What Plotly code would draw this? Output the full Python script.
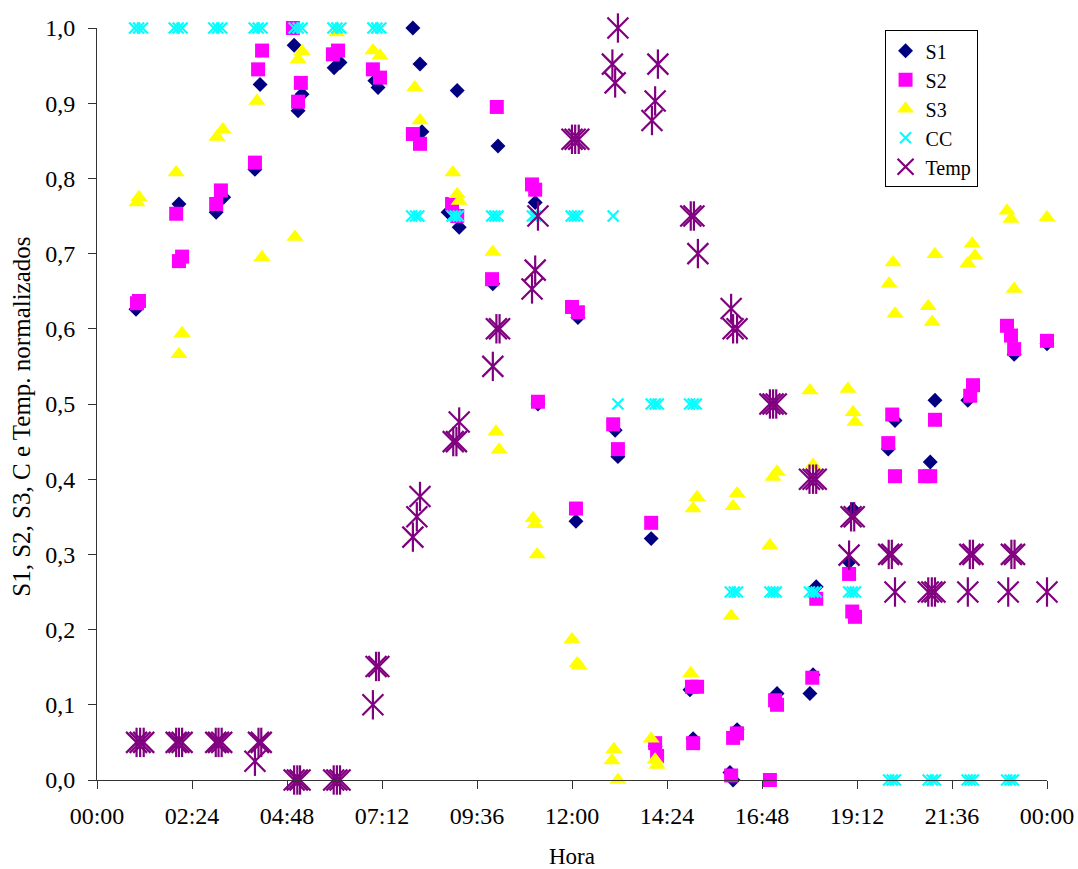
import plotly.graph_objects as go

# Hours since midnight for each reading, and the normalised values
s1_t = [0.985, 2.07, 3.01, 3.2, 3.99, 4.12, 4.98, 5.18, 5.08, 5.99, 6.14, 7.02, 7.1,
        7.98, 8.16, 8.21, 8.87, 9.1, 9.15, 10.0, 10.13, 11.07, 11.14, 12.1, 12.15,
        13.09, 13.16, 14.0, 14.1, 14.98, 15.06, 15.99, 16.07, 16.17, 17.18, 18.01,
        18.09, 18.17, 19.0, 19.1, 19.99, 20.16, 21.05, 21.17, 22.0, 23.17, 24.0]
s1_v = [0.626, 0.766, 0.755, 0.775, 0.812, 0.925, 0.977, 0.912, 0.89, 0.947, 0.954, 0.93, 0.921,
        1.0, 0.952, 0.862, 0.755, 0.917, 0.735, 0.66, 0.843, 0.768, 0.5, 0.344, 0.615,
        0.465, 0.43, 0.321, 0.045, 0.12, 0.055, 0.01, 0.0, 0.067, 0.115, 0.115,
        0.14, 0.257, 0.29, 0.36, 0.44, 0.478, 0.423, 0.505, 0.505, 0.566, 0.58]

s2_t = [1.01, 1.06, 2.0, 2.07, 2.15, 3.01, 3.13, 3.99, 4.07, 4.17, 4.95, 5.08, 5.15,
        5.96, 6.09, 6.97, 7.15, 7.98, 8.16, 8.97, 9.1, 9.98, 10.1, 10.99, 11.07, 11.14,
        12.0, 12.1, 12.15, 13.04, 13.16, 14.0, 14.1, 14.15, 15.03, 15.06, 15.16,
        16.02, 16.07, 16.17, 17.0, 17.13, 17.18, 18.07, 18.17, 19.0, 19.08, 19.15,
        19.99, 20.09, 20.16, 20.92, 21.05, 21.17, 22.06, 22.13, 22.99, 23.09, 23.17, 24.0]
s2_v = [0.634, 0.637, 0.753, 0.69, 0.696, 0.766, 0.784, 0.821, 0.945, 0.97, 1.0, 0.902, 0.927,
        0.965, 0.97, 0.945, 0.934, 0.859, 0.846, 0.766, 0.75, 0.666, 0.895, 0.792, 0.785, 0.503,
        0.629, 0.361, 0.622, 0.473, 0.44, 0.342, 0.049, 0.032, 0.124, 0.049, 0.124,
        0.006, 0.056, 0.062, 0.0, 0.106, 0.1, 0.136, 0.241, 0.274, 0.224, 0.217,
        0.448, 0.486, 0.404, 0.404, 0.404, 0.479, 0.511, 0.525, 0.604, 0.591, 0.573, 0.584]

s3_t = [1.01, 1.06, 2.0, 2.07, 2.15, 3.03, 3.18, 4.04, 4.17, 5.0, 5.08, 5.18, 6.06,
        6.97, 7.15, 8.03, 8.16, 8.99, 9.1, 9.15, 10.0, 10.08, 10.16, 11.02, 11.07, 11.12,
        12.0, 12.13, 12.18, 13.01, 13.06, 13.16, 14.0, 14.1, 14.15, 15.0, 15.06, 15.16,
        16.02, 16.07, 16.17, 17.0, 17.08, 17.18, 18.01, 18.09, 18.97, 19.1, 19.15,
        20.01, 20.11, 20.16, 21.0, 21.1, 21.17, 22.0, 22.11, 22.18, 22.99, 23.09, 23.17, 24.0]
s3_v = [0.768, 0.775, 0.808, 0.566, 0.594, 0.855, 0.865, 0.903, 0.695, 0.722, 0.958, 0.969, 0.994,
        0.97, 0.963, 0.921, 0.877, 0.808, 0.779, 0.77, 0.702, 0.463, 0.439, 0.348, 0.34, 0.3,
        0.187, 0.155, 0.152, 0.026, 0.041, 0.0, 0.055, 0.027, 0.02, 0.142, 0.361, 0.376,
        0.218, 0.364, 0.381, 0.312, 0.403, 0.41, 0.518, 0.419, 0.52, 0.489, 0.476,
        0.66, 0.688, 0.62, 0.63, 0.609, 0.699, 0.687, 0.713, 0.697, 0.757, 0.746, 0.653, 0.748]

cc_t = [0.95, 1.05, 1.15, 1.95, 2.05, 2.15, 2.95, 3.05, 3.15, 3.97, 4.07, 4.17,
        4.98, 5.08, 5.18, 5.96, 6.06, 6.16, 6.97, 7.07, 7.17,
        7.95, 8.05, 8.13, 8.97, 9.05, 9.13, 9.97, 10.05, 10.13, 11.0, 11.08,
        11.98, 12.06, 12.14, 13.04,
        13.16, 14.0, 14.1, 14.18, 14.97, 15.06, 15.14,
        16.0, 16.1, 16.18, 17.0, 17.08, 17.16, 18.0, 18.09, 18.17, 18.99, 19.08, 19.16,
        20.0, 20.09, 20.17, 21.0, 21.1, 21.18, 21.98, 22.06, 22.14, 22.98, 23.07, 23.15, 24.03]
cc_v = [1.0, 1.0, 1.0, 1.0, 1.0, 1.0, 1.0, 1.0, 1.0, 1.0, 1.0, 1.0,
        1.0, 1.0, 1.0, 1.0, 1.0, 1.0, 1.0, 1.0, 1.0,
        0.75, 0.75, 0.75, 0.75, 0.75, 0.75, 0.75, 0.75, 0.75, 0.75, 0.75,
        0.75, 0.75, 0.75, 0.75,
        0.5, 0.5, 0.5, 0.5, 0.5, 0.5, 0.5,
        0.25, 0.25, 0.25, 0.25, 0.25, 0.25, 0.25, 0.25, 0.25, 0.25, 0.25, 0.25,
        0.0, 0.0, 0.0, 0.0, 0.0, 0.0, 0.0, 0.0, 0.0, 0.0, 0.0, 0.0, 0.0]

temp_t = [1.0, 1.09, 1.18, 2.0, 2.07, 2.15, 3.0, 3.07, 3.15, 3.99, 4.08, 4.15,
          4.98, 5.06, 5.13, 5.98, 6.06, 6.14, 6.97, 7.05, 7.12,
          7.98, 8.08, 8.16, 9.0, 9.08, 9.15, 10.0, 10.09, 10.17,
          10.99, 11.07, 11.14, 12.0, 12.08, 12.17, 13.02, 13.09, 13.16,
          14.02, 14.1, 14.17, 15.0, 15.08, 15.18, 16.02, 16.07, 16.17,
          17.0, 17.08, 17.16, 18.0, 18.09, 18.17, 19.0, 19.05, 19.13,
          20.0, 20.08, 20.16, 21.0, 21.09, 21.17, 22.0, 22.05, 22.13,
          23.02, 23.1, 23.18, 24.0]
temp_v = [0.05, 0.05, 0.05, 0.05, 0.05, 0.05, 0.05, 0.05, 0.05, 0.025, 0.05, 0.05,
          0.0, 0.0, 0.0, 0.0, 0.0, 0.0, 0.1, 0.151, 0.151,
          0.323, 0.35, 0.377, 0.45, 0.45, 0.476, 0.55, 0.6, 0.6,
          0.653, 0.678, 0.75, 0.852, 0.852, 0.852, 0.952, 0.927, 1.0,
          0.877, 0.903, 0.952, 0.75, 0.75, 0.70, 0.627, 0.6, 0.6,
          0.5, 0.5, 0.5, 0.4, 0.4, 0.4, 0.299, 0.35, 0.35,
          0.3, 0.3, 0.25, 0.25, 0.25, 0.25, 0.25, 0.3, 0.3,
          0.25, 0.3, 0.3, 0.25]

x_tickvals = [0, 2.4, 4.8, 7.2, 9.6, 12, 14.4, 16.8, 19.2, 21.6, 24]
x_ticktext = ["00:00", "02:24", "04:48", "07:12", "09:36", "12:00",
              "14:24", "16:48", "19:12", "21:36", "00:00"]
y_tickvals = [0, 0.1, 0.2, 0.3, 0.4, 0.5, 0.6, 0.7, 0.8, 0.9, 1.0]

SERIF = "Liberation Serif, Times New Roman, serif"
NAVY, MAGENTA, YELLOW, CYAN, PURPLE = "#000080", "#FF00FF", "#FFFF00", "#00FFFF", "#800080"

fig = go.Figure()

fig.add_trace(go.Scatter(x=s1_t, y=s1_v, name="S1", mode="markers", cliponaxis=False,
                         legendgroup="S1",
                         marker=dict(symbol="diamond", size=11.5, color=NAVY, line=dict(width=0))))
fig.add_trace(go.Scatter(x=s2_t, y=s2_v, name="S2", mode="markers", cliponaxis=False,
                         legendgroup="S2",
                         marker=dict(symbol="square", size=14, color=MAGENTA, line=dict(width=0))))
fig.add_trace(go.Scatter(x=s3_t, y=s3_v, name="S3", mode="markers", cliponaxis=False,
                         legendgroup="S3",
                         marker=dict(symbol="triangle-up", size=15, color=YELLOW, line=dict(width=0))))
fig.add_trace(go.Scatter(x=cc_t, y=cc_v, name="CC", mode="markers", cliponaxis=False,
                         legendgroup="CC",
                         marker=dict(symbol="x-thin", size=11, color=CYAN,
                                     line=dict(width=2.2, color=CYAN))))
# Temp: an asterisk built from a diagonal cross plus a vertical stroke
fig.add_trace(go.Scatter(x=temp_t, y=temp_v, name="Temp", mode="markers", cliponaxis=False,
                         legendgroup="Temp",
                         marker=dict(symbol="x-thin", size=21, color=PURPLE,
                                     line=dict(width=2.2, color=PURPLE))))
fig.add_trace(go.Scatter(x=temp_t, y=temp_v, name="Temp", mode="markers", cliponaxis=False,
                         legendgroup="Temp", showlegend=False,
                         marker=dict(symbol="line-ns", size=21, color=PURPLE,
                                     line=dict(width=2.2, color=PURPLE))))

axis_common = dict(
    showgrid=False, zeroline=False, showline=True, linecolor="#333333", linewidth=1,
    ticks="outside", ticklen=8, tickwidth=1, tickcolor="#333333",
    tickfont=dict(family=SERIF, size=24, color="#000000"), automargin=False,
)

fig.update_layout(
    width=1078, height=869,
    margin=dict(l=97, r=31, t=28, b=89),
    paper_bgcolor="white", plot_bgcolor="white",
    separators=",.",
    font=dict(family=SERIF, color="#000000"),
    xaxis=dict(range=[0, 24], tickmode="array", tickvals=x_tickvals, ticktext=x_ticktext,
               ticklabelstandoff=6,
               title=dict(text="Hora", font=dict(family=SERIF, size=23), standoff=22),
               **axis_common),
    yaxis=dict(range=[0, 1], tickmode="array", tickvals=y_tickvals, tickformat=".1f",
               ticklabelstandoff=8,
               **axis_common),
    legend=dict(x=0.829, y=0.997, xanchor="left", yanchor="top",
                bgcolor="white", bordercolor="#000000", borderwidth=1,
                font=dict(family=SERIF, size=20, color="#000000"),
                traceorder="normal", tracegroupgap=2),
    showlegend=True,
    annotations=[dict(
        text="S1, S2, S3, C e Temp. normalizados",
        xref="paper", yref="paper", x=-0.079, y=0.483,
        xanchor="center", yanchor="middle", textangle=-90, showarrow=False,
        font=dict(family=SERIF, size=25, color="#000000"),
    )],
)

fig.write_html("out.html")
